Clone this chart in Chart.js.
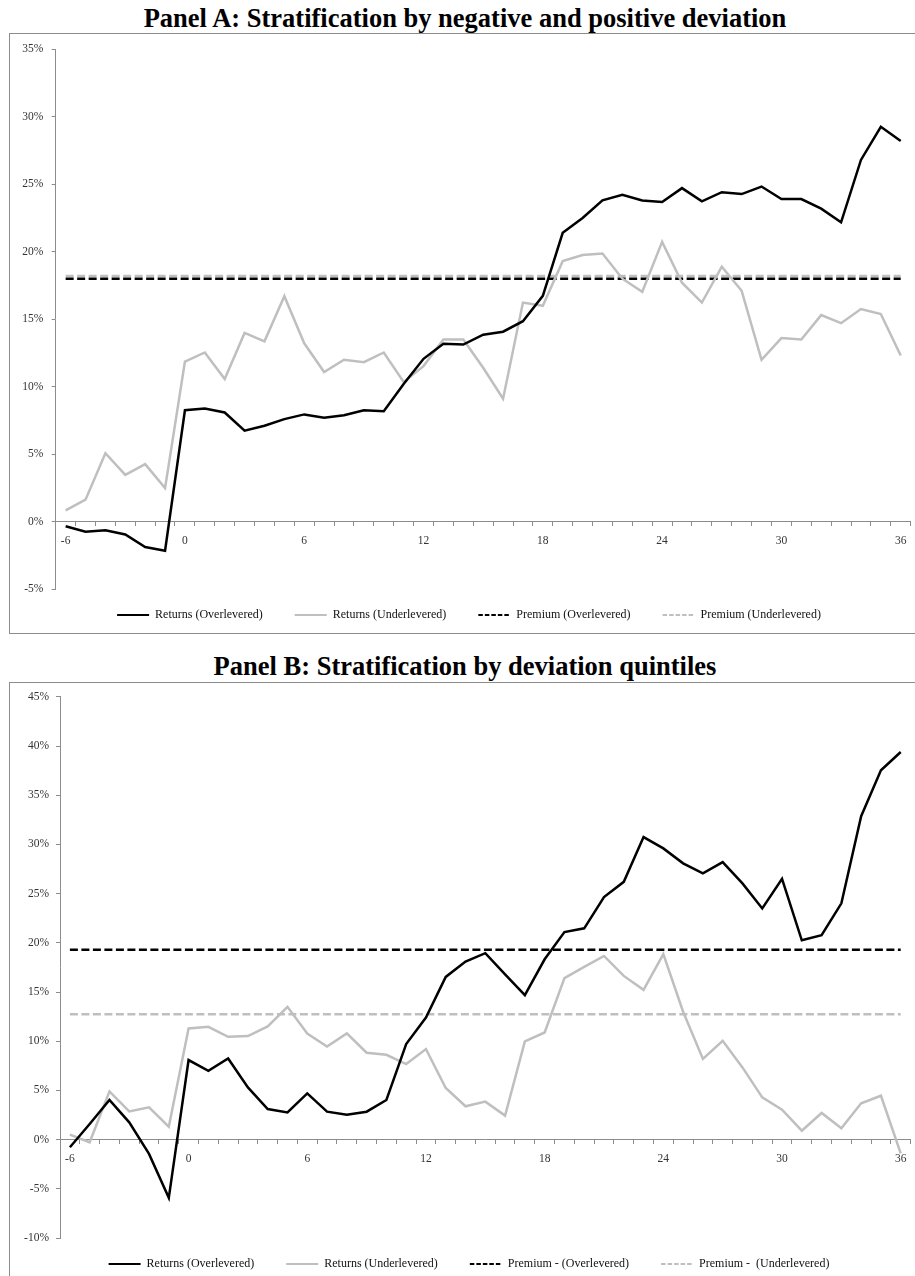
<!DOCTYPE html>
<html>
<head>
<meta charset="utf-8">
<script src="https://cdn.jsdelivr.net/npm/chart.js@4/dist/chart.umd.min.js"></script>
<style>
  html, body { margin: 0; padding: 0; background: #fff; overflow: hidden; }
  #page { position: relative; width: 915px; height: 1276px; overflow: hidden; }
  .title {
    position: absolute; left: 0; width: 930px; text-align: center;
    font: bold 26.5px "Liberation Serif", "Times New Roman", serif;
    line-height: 30px; color: #000; white-space: nowrap;
  }
  .frame { position: absolute; left: 9px; width: 1000px; border: 1px solid #8c8c8c; box-sizing: border-box; }
  canvas { position: absolute; left: 10px; }
</style>
</head>
<body>
<div id="page">
<div class="title" style="top:3px">Panel A: Stratification by negative and positive deviation</div>
<div class="frame" style="top:33px;height:601px"></div>
<canvas id="panelA" width="905" height="609" style="top:34px"></canvas>

<div class="title" style="top:651px">Panel B: Stratification by deviation quintiles</div>
<div class="frame" style="top:682px;height:700px"></div>
<canvas id="panelB" width="905" height="609" style="top:683px"></canvas>
</div>

<script>
// Event months relative to the leverage deviation date
const months = [-6, -5, -4, -3, -2, -1, 0, 1, 2, 3, 4, 5, 6, 7, 8, 9, 10, 11, 12, 13, 14,
  15, 16, 17, 18, 19, 20, 21, 22, 23, 24, 25, 26, 27, 28, 29, 30, 31, 32, 33, 34, 35, 36];

// Panel A: cumulative returns (%), negative vs positive deviation
const returnsOverA = [-0.35, -0.76, -0.64, -0.96, -1.89, -2.16,
  8.25, 8.38, 8.08, 6.73, 7.1, 7.59, 7.94, 7.69, 7.88, 8.25, 8.18, 10.2, 12.06, 13.17,
  13.12, 13.85, 14.07, 14.85, 16.73, 21.4, 22.5, 23.8, 24.22, 23.8, 23.68, 24.71, 23.73,
  24.41, 24.27, 24.83, 23.9, 23.9, 23.19, 22.18, 26.8, 29.26, 28.2];
const returnsUnderA = [0.83, 1.62, 5.06, 3.46, 4.25, 2.48,
  11.86, 12.53, 10.56, 13.98, 13.36, 16.7, 13.21, 11.08, 11.99, 11.81, 12.53, 10.34, 11.52, 13.49,
  13.49, 11.4, 9.1, 16.23, 15.99, 19.3, 19.75, 19.87, 18.0, 17.02, 20.73, 17.7, 16.23,
  18.89, 17.1, 11.99, 13.6, 13.49, 15.3, 14.7, 15.75, 15.38, 12.3];
const premiumOverA = 18.0;
const premiumUnderA = 18.2;
const legendA = ['Returns (Overlevered)', 'Returns (Underlevered)',
  'Premium (Overlevered)', 'Premium (Underlevered)'];

// Panel B: cumulative returns (%), extreme deviation quintiles
const returnsOverB = [-0.78, 1.59, 4.03, 1.76, -1.45, -5.92,
  8.09, 7.0, 8.25, 5.31, 3.11, 2.77, 4.7, 2.84, 2.54, 2.84, 4.03, 9.72, 12.41, 16.54,
  18.1, 18.95, 16.8, 14.68, 18.33, 21.1, 21.48, 24.66, 26.2, 30.75, 29.6, 28.08, 27.06,
  28.21, 26.04, 23.5, 26.51, 20.26, 20.77, 24.02, 32.88, 37.54, 39.4];
const returnsUnderB = [0.51, -0.27, 4.9, 2.87, 3.28, 1.32,
  11.3, 11.47, 10.45, 10.52, 11.5, 13.5, 10.79, 9.47, 10.79, 8.83, 8.62, 7.68, 9.2, 5.25,
  3.39, 3.86, 2.44, 9.98, 10.89, 16.41, 17.56, 18.67, 16.64, 15.22, 18.85, 13.0, 8.2,
  10.05, 7.34, 4.29, 3.04, 0.91, 2.71, 1.15, 3.69, 4.46, -1.39];
const premiumOverB = 19.3;
const premiumUnderB = 12.75;
const legendB = ['Returns (Overlevered)', 'Returns (Underlevered)',
  'Premium - (Overlevered)', 'Premium -  (Underlevered)'];

const SERIF = '"Liberation Serif", "Times New Roman", serif';
const AXIS_GREY = '#8c8c8c';
const LINE_GREY = '#bfbfbf';

// Moves the bottom legend closer to the plot and centres it under the frame
const legendShift = {
  id: 'legendShift',
  afterLayout(chart, args, opts) {
    const lg = chart.legend;
    if (!lg || !opts) return;
    const dy = opts.dy || 0, dx = opts.dx || 0;
    lg.top -= dy; lg.bottom -= dy;
    lg.left += dx; lg.right += dx;
  }
};

function flatLine(value) {
  // horizontal premium level from the first to the last event month
  return [{ x: months[0], y: value }, { x: months[months.length - 1], y: value }];
}

function buildPanel(canvasId, cfg) {
  return new Chart(document.getElementById(canvasId), {
    type: 'line',
    data: {
      labels: months,
      datasets: [
        { label: cfg.names[0], data: cfg.over, borderColor: '#000', borderWidth: 2.5 },
        { label: cfg.names[1], data: cfg.under, borderColor: LINE_GREY, borderWidth: 2.5 },
        { label: cfg.names[2], data: flatLine(cfg.premOver), borderColor: '#000', borderWidth: 2.5, borderDash: [8, 3.5] },
        { label: cfg.names[3], data: flatLine(cfg.premUnder), borderColor: LINE_GREY, borderWidth: 2.5, borderDash: [8, 3.5] }
      ]
    },
    options: {
      responsive: false,
      animation: false,
      layout: { padding: { left: 0, right: 3, top: 13, bottom: 0 } },
      elements: {
        point: { radius: 0, hoverRadius: 0 },
        line: { tension: 0, fill: false, borderCapStyle: 'butt', borderJoinStyle: 'miter' }
      },
      scales: {
        x: {
          type: 'category',
          position: { y: 0 },
          offset: true,
          grid: { offset: true, drawOnChartArea: false, tickLength: 4, tickColor: AXIS_GREY, tickWidth: 1 },
          border: { color: AXIS_GREY, width: 1 },
          ticks: {
            autoSkip: false, maxRotation: 0, minRotation: 0, padding: 8.5,
            font: { family: SERIF, size: 11.5 }, color: '#333',
            callback(v) {
              const m = this.getLabelForValue(v);
              return Number(m) % 6 === 0 ? String(m) : '';
            }
          }
        },
        y: {
          min: cfg.yMin, max: cfg.yMax,
          afterFit(scale) { scale.width = cfg.yWidth; },
          grid: { drawOnChartArea: false, tickLength: 4, tickColor: AXIS_GREY, tickWidth: 1 },
          border: { color: AXIS_GREY, width: 1 },
          ticks: {
            stepSize: 5, padding: cfg.yPad,
            font: { family: SERIF, size: 11.5 }, color: '#333',
            callback: v => v + '%'
          }
        }
      },
      plugins: {
        tooltip: { enabled: false },
        legend: {
          position: 'bottom',
          labels: {
            usePointStyle: true, pointStyle: 'line', pointStyleWidth: 32,
            padding: 32,
            font: { family: SERIF, size: 12 }, color: '#111',
            generateLabels(chart) {
              const items = Chart.defaults.plugins.legend.labels.generateLabels(chart);
              items.forEach(it => {
                const ds = chart.data.datasets[it.datasetIndex];
                it.lineWidth = 2;
                it.strokeStyle = ds.borderColor;
                it.lineDash = (ds.borderDash && ds.borderDash.length) ? [4.5, 2] : [];
              });
              return items;
            }
          }
        },
        legendShift: { dy: 12, dx: 8 }
      }
    },
    plugins: [legendShift]
  });
}

buildPanel('panelA', {
  names: legendA, over: returnsOverA, under: returnsUnderA,
  premOver: premiumOverA, premUnder: premiumUnderA,
  yMin: -5, yMax: 35, yWidth: 45.7, yPad: 8.4
});

buildPanel('panelB', {
  names: legendB, over: returnsOverB, under: returnsUnderB,
  premOver: premiumOverB, premUnder: premiumUnderB,
  yMin: -10, yMax: 45, yWidth: 50, yPad: 7
});
</script>
</body>
</html>
